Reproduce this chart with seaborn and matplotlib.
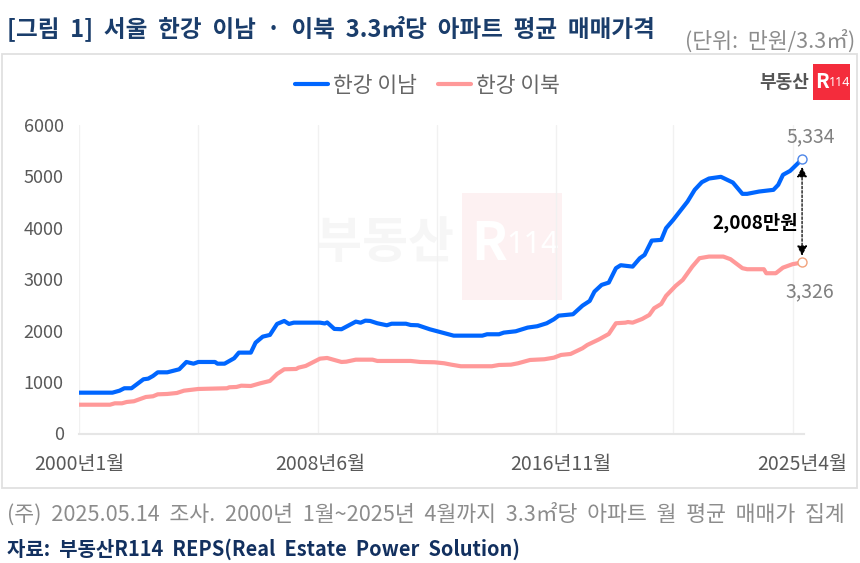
import matplotlib
matplotlib.use("Agg")
import matplotlib.pyplot as plt
from matplotlib.lines import Line2D
from matplotlib.patches import Rectangle
import pandas as pd
import seaborn as sns

FONT = ['Noto Sans CJK KR', 'DejaVu Sans']
sns.set_theme(style="white")
plt.rcParams['font.family'] = FONT

south_months = [0,14,17,19,22,27,29,31,33,37,42,45,48,50,57,58,61,65,67,72,74,77,80,83,86,88,90,101,103,104,107,110,116,118,120,122,125,129,131,137,139,142,147,157,169,171,176,178,183,188,192,196,199,201,207,211,214,216,219,222,225,227,232,235,237,240,244,246,249,255,258,261,264,269,274,278,280,285,291,293,295,298,303]
south_values = [794,794,833,880,880,1054,1067,1119,1190,1190,1249,1391,1358,1391,1391,1358,1358,1463,1573,1573,1767,1884,1917,2131,2189,2131,2156,2156,2140,2160,2034,2028,2176,2155,2195,2189,2144,2105,2135,2135,2110,2105,2027,1903,1903,1930,1930,1962,1988,2060,2086,2144,2222,2292,2319,2487,2578,2760,2890,2935,3215,3273,3246,3409,3474,3752,3766,3993,4155,4511,4739,4888,4959,4992,4881,4661,4661,4706,4739,4836,5031,5108,5334]
north_months = [0,13,15,18,20,23,28,31,33,37,41,44,50,62,63,66,68,72,76,80,83,86,91,92,95,101,104,110,112,116,123,125,139,143,149,153,156,160,173,176,181,184,189,195,199,202,206,211,213,218,222,225,229,230,232,236,239,241,244,246,250,253,257,260,264,270,273,278,280,287,288,292,295,299,303]
north_values = [560,560,587,587,613,627,710,724,762,769,788,833,866,880,899,905,930,924,977,1022,1158,1249,1255,1281,1314,1456,1469,1391,1397,1436,1436,1411,1411,1391,1385,1366,1339,1308,1308,1333,1339,1366,1430,1444,1475,1528,1547,1658,1722,1833,1936,2144,2156,2168,2156,2228,2306,2436,2520,2676,2870,2987,3246,3409,3441,3441,3390,3215,3195,3195,3117,3117,3226,3293,3326]
series_names = ['한강 이남', '한강 이북']
tick_months = [0, 101, 202, 303]
tick_labels = ['2000년1월', '2008년6월', '2016년11월', '2025년4월']
grid_months = [0, 50, 100, 150, 200, 249, 299]
y_ticks = [0, 1000, 2000, 3000, 4000, 5000, 6000]
gap_label = '2,008만원'
end_labels = ['5,334', '3,326']

W, H = 860, 563
fig = plt.figure(figsize=(W/100, H/100), dpi=100, facecolor='white')
fx = lambda x: x / W
fy = lambda y: 1 - y / H

def rect(x0, y0, x1, y1, **kw):
    fig.add_artist(Rectangle((fx(x0), fy(y1)), fx(x1) - fx(x0), fy(y0) - fy(y1),
                             transform=fig.transFigure, **kw))

def label(x, y, s, **kw):
    kw.setdefault('va', 'center')
    kw.setdefault('ha', 'left')
    return fig.text(fx(x), fy(y), s, **kw)

# frame
rect(1.5, 54, 856.5, 488, fc='white', ec='#e0e0e0', lw=1.3, zorder=-5)
# watermark
rect(462, 193, 562, 300, fc='#fdf1f2', ec='none', zorder=-4)
label(316, 244, '부동산', fontsize=36, fontweight='bold', color='#f6f6f6', zorder=-3)
label(471, 245, 'R', fontsize=38, fontweight='bold', color='white', zorder=-3)
label(506, 245, '114', fontsize=22, family=['Noto Sans'], color='white', zorder=-3)
# logo
rect(813, 64, 849.5, 100, fc='#f42c3c', ec='none', zorder=1)
label(759, 82, '부동산', fontsize=13, fontweight='bold', color='#555555')
label(815, 82, 'R', fontsize=14.5, fontweight='bold', color='white', zorder=2)
label(829, 82, '114', fontsize=9, family=['Noto Sans'], fontweight='bold', color='white', zorder=2)

ax = fig.add_axes([fx(79), fy(433.5), fx(803.5) - fx(79), fy(125) - fy(433.5)])
ax.patch.set_alpha(0)

df = pd.concat([
    pd.DataFrame({'month': south_months, 'value': south_values, 'series': series_names[0]}),
    pd.DataFrame({'month': north_months, 'value': north_values, 'series': series_names[1]}),
])
palette = {series_names[0]: '#0066ff', series_names[1]: '#ff9999'}
sns.lineplot(data=df, x='month', y='value', hue='series', palette=palette, ax=ax,
             linewidth=3, legend=False, errorbar=None, estimator=None, sort=False,
             solid_capstyle='round', solid_joinstyle='round', zorder=3)

ax.set_xlim(0, 303.6)
ax.set_ylim(0, 6000)
ax.set_xlabel('')
ax.set_ylabel('')
ax.set_yticks(y_ticks)
ax.set_xticks(tick_months)
ax.set_xticklabels(tick_labels)
ax.tick_params(axis='both', length=0, labelcolor='#595959')
ax.tick_params(axis='x', pad=15, labelsize=14)
ax.tick_params(axis='y', pad=11, labelsize=13)
for m in grid_months:
    ax.axvline(m, color='#f1f1f1', lw=1, zorder=0)
for s in ['top', 'right', 'left']:
    ax.spines[s].set_visible(False)
ax.spines['bottom'].set_color('#e6e6e6')
ax.spines['bottom'].set_linewidth(1.5)

# end markers
ax.plot(south_months[-1], south_values[-1], 'o', ms=6.5, mfc='white', mec='#4d86e8', mew=1, zorder=5, clip_on=False)
ax.plot(north_months[-1], north_values[-1], 'o', ms=6.5, mfc='white', mec='#f2a27c', mew=1, zorder=5, clip_on=False)
ax.annotate(end_labels[0], (south_months[-1], south_values[-1]), xytext=(9, 22), textcoords='offset pixels',
            ha='center', va='center', fontsize=14, color='#808080', annotation_clip=False)
ax.annotate(end_labels[1], (north_months[-1], north_values[-1]), xytext=(8, -29), textcoords='offset pixels',
            ha='center', va='center', fontsize=14, color='#808080', annotation_clip=False)
# gap arrow
ax.annotate('', xy=(south_months[-1], south_values[-1] - 150), xytext=(north_months[-1], north_values[-1] + 130),
            arrowprops=dict(arrowstyle='<|-|>', linestyle=(0, (2, 1.5)), color='black', lw=0.9,
                            mutation_scale=15, shrinkA=0, shrinkB=0), zorder=4)
ax.annotate(gap_label, (north_months[-1], (south_values[-1] + north_values[-1]) / 2),
            xytext=(-47, -12), textcoords='offset pixels', ha='center', va='center',
            fontsize=13.6, fontweight='bold', color='black')

# legend
handles = [Line2D([], [], color=palette[n], lw=3, solid_capstyle='round') for n in series_names]
leg = fig.legend(handles, series_names, ncol=2, frameon=False, loc='center', bbox_to_anchor=(fx(427.5), fy(86)),
                 fontsize=15.5, handlelength=1.55, handletextpad=0.25, columnspacing=0.95, labelcolor='#666666')

# outer text
label(7, 28, '[그림  1]  서울  한강  이남  ·  이북  3.3㎡당  아파트  평균  매매가격', fontsize=17, fontweight='bold', color='#1a3d6b')
label(855, 41, '(단위:  만원/3.3㎡)', fontsize=15.6, color='#8c8c8c', ha='right')
label(7, 514, '(주)  2025.05.14  조사.  2000년  1월~2025년  4월까지  3.3㎡당  아파트  월  평균  매매가  집계', fontsize=15.6, color='#8c8c8c')
label(7, 549, '자료:  부동산R114  REPS(Real  Estate  Power  Solution)', fontsize=14.4, fontweight='bold', color='#12305f')

fig.savefig('out.png', dpi=100, facecolor='white')
